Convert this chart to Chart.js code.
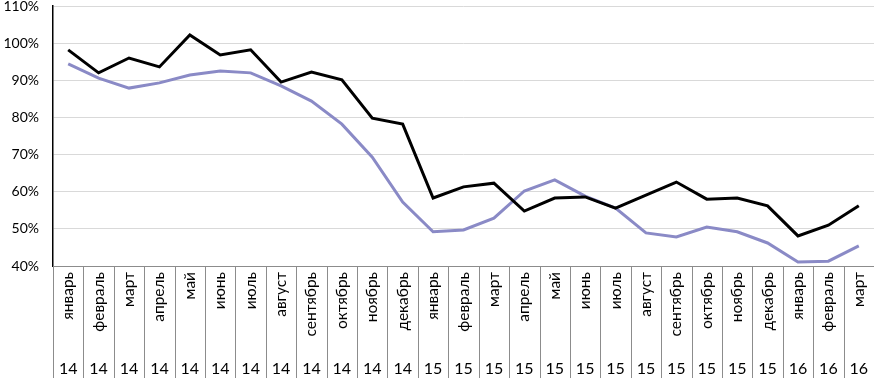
<!DOCTYPE html>
<html>
<head>
<meta charset="utf-8">
<script src="https://cdn.jsdelivr.net/npm/chart.js@4"></script>
<style>
	body { margin: 0; background: #fff; }
	#wrap { width: 874px; height: 378px; position: relative; }
</style>
</head>
<body>
<div id="wrap"><canvas id="myChart"></canvas></div>
<script>
// months + years (two level category axis)
const months = ["январь", "февраль", "март", "апрель", "май", "июнь", "июль", "август", "сентябрь", "октябрь", "ноябрь", "декабрь",
	"январь", "февраль", "март", "апрель", "май", "июнь", "июль", "август", "сентябрь", "октябрь", "ноябрь", "декабрь",
	"январь", "февраль", "март"];
const years = ["14", "14", "14", "14", "14", "14", "14", "14", "14", "14", "14", "14",
	"15", "15", "15", "15", "15", "15", "15", "15", "15", "15", "15", "15",
	"16", "16", "16"];

// values in percent
const blackSeries = [98.2, 92.0, 96.0, 93.6, 102.2, 96.8, 98.2, 89.5, 92.2, 90.1, 79.8, 78.2,
	58.3, 61.3, 62.3, 54.8, 58.3, 58.6, 55.6, 59.1, 62.6, 58.0, 58.3, 56.2,
	48.1, 51.0, 56.2];
const blueSeries = [94.4, 90.6, 87.9, 89.3, 91.4, 92.5, 92.0, 88.5, 84.4, 78.2, 69.3, 57.2,
	49.2, 49.7, 52.9, 60.2, 63.2, 58.8, 55.6, 48.9, 47.8, 50.5, 49.2, 46.2,
	41.1, 41.3, 45.4];

const yTicks = { min: 40, max: 110, step: 10 };

const FONT = "Lato, 'Open Sans', sans-serif";

// vertical separators through the label area, like excel
const separators = {
	id: "separators",
	afterDraw(chart) {
		const x = chart.scales.x;
		const ctx = chart.ctx;
		const half = (x.getPixelForTick(1) - x.getPixelForTick(0)) / 2;
		ctx.save();
		ctx.strokeStyle = "#8c8c8c";
		ctx.lineWidth = 1;
		for (let i = 0; i <= months.length; i++) {
			const px = Math.round(x.getPixelForTick(Math.min(i, months.length - 1)) + (i < months.length ? -half : half)) + 0.5;
			ctx.beginPath();
			ctx.moveTo(px, chart.chartArea.bottom);
			ctx.lineTo(px, chart.height);
			ctx.stroke();
		}
		ctx.restore();
	},
};

const config = {
	type: "line",
	data: {
		labels: months,
		datasets: [
			{
				label: "black",
				data: blackSeries,
				borderColor: "#000000",
				borderWidth: 3,
				pointRadius: 0,
				tension: 0,
				xAxisID: "x",
			},
			{
				label: "blue",
				data: blueSeries,
				borderColor: "#8a8ac6",
				borderWidth: 3,
				pointRadius: 0,
				tension: 0,
				xAxisID: "x",
			},
		],
	},
	options: {
		responsive: true,
		maintainAspectRatio: false,
		animation: false,
		layout: { padding: { top: 6, right: 0, left: 0, bottom: 0 } },
		plugins: { legend: { display: false }, tooltip: { enabled: false } },
		scales: {
			x: {
				type: "category",
				position: "bottom",
				weight: 0,
				offset: true,
				grid: { display: false, drawTicks: false },
				border: { display: true, color: "#8c8c8c", width: 1 },
				ticks: {
					autoSkip: false,
					minRotation: 90,
					maxRotation: 90,
					padding: 6,
					color: "#000",
					font: { family: FONT, size: 15.5 },
				},
				afterFit(scale) {
					scale.height = 84;
					scale.paddingLeft = 0;
					scale.paddingRight = 0;
				},
			},
			x2: {
				type: "category",
				position: "bottom",
				weight: 1,
				labels: years,
				offset: true,
				grid: { display: false, drawTicks: false },
				border: { display: false },
				ticks: {
					autoSkip: false,
					maxRotation: 0,
					padding: 9,
					color: "#000",
					font: { family: FONT, size: 16 },
				},
				afterFit(scale) {
					scale.height = 28;
					scale.paddingLeft = 0;
					scale.paddingRight = 0;
				},
			},
			y: {
				min: yTicks.min,
				max: yTicks.max,
				ticks: {
					stepSize: yTicks.step,
					padding: 14,
					color: "#000",
					font: { family: FONT, size: 14 },
					callback: (v) => v + "%",
				},
				grid: { color: "#d9d9d9", lineWidth: 1, drawTicks: false },
				border: { display: true, color: "#000", width: 1.5 },
				afterFit(scale) {
					scale.width = 53;
					scale.paddingTop = 0;
					scale.paddingBottom = 0;
				},
			},
		},
	},
	plugins: [separators],
};

const MyChart = new Chart(document.getElementById("myChart"), config);
</script>
</body>
</html>
